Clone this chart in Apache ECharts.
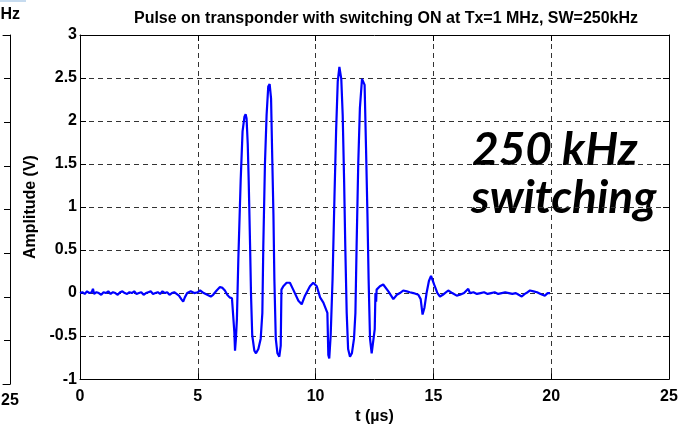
<!DOCTYPE html>
<html>
<head>
<meta charset="utf-8">
<script src="https://cdn.jsdelivr.net/npm/echarts@6/dist/echarts.min.js"></script>
<style>
html,body{margin:0;padding:0;background:#fff;}
#chart{width:688px;height:430px;}
</style>
</head>
<body>
<div id="chart"></div>
<script>
// ---- data ----
const titleText = 'Pulse on transponder with switching ON at Tx=1 MHz, SW=250kHz';
const xAxisName = 't (\u00b5s)';
const yAxisName = 'Amplitude (V)';
const annotationLines = ['250 kHz', 'switching'];
const leftPanelTitleTail = 'Hz';
const leftPanelLastTick = 25;

const xTicks = [0, 5, 10, 15, 20, 25];
const yTicks = [-1, -0.5, 0, 0.5, 1, 1.5, 2, 2.5, 3];

const timeUs = [
  0.00,0.10,0.20,0.30,0.40,0.50,0.55,0.60,0.70,0.80,0.90,1.00,1.10,1.20,1.30,1.40,1.50,1.60,1.70,1.80,1.90,
  2.00,2.10,2.20,2.30,2.40,2.50,2.60,2.70,2.80,2.90,3.00,3.10,3.20,3.30,3.40,3.50,3.60,3.70,3.80,3.90,
  4.00,4.10,4.20,4.30,4.38,4.45,4.55,4.70,4.85,5.00,5.10,5.25,5.40,5.55,5.65,5.80,5.94,6.05,6.15,6.25,6.35,6.45,6.51,
  6.55,6.58,6.62,6.66,6.72,6.82,6.90,6.98,7.03,7.07,7.12,7.16,7.22,7.26,7.31,7.40,7.47,7.57,7.67,7.74,7.78,
  7.85,7.92,7.99,8.05,8.11,8.16,8.21,8.25,8.31,8.38,8.46,8.52,8.55,8.63,8.77,8.91,9.05,9.27,9.41,9.55,9.76,
  9.90,10.05,10.19,10.33,10.41,10.50,10.54,10.58,10.64,10.72,10.80,10.87,10.94,11.01,11.05,11.09,11.15,11.21,
  11.26,11.32,11.38,11.46,11.54,11.63,11.69,11.74,11.81,11.88,11.97,12.03,12.08,12.14,12.20,12.25,12.31,12.38,
  12.45,12.51,12.54,12.57,12.59,12.73,12.87,13.09,13.30,13.45,13.58,13.72,13.87,14.00,14.15,14.36,14.46,14.54,
  14.62,14.71,14.81,14.90,15.03,15.17,15.28,15.40,15.49,15.63,15.80,15.99,16.13,16.30,16.48,16.55,16.70,16.85,
  17.00,17.15,17.30,17.45,17.60,17.75,17.90,18.05,18.20,18.35,18.50,18.62,18.75,18.88,19.00,19.10,19.25,19.40,
  19.55,19.73,19.85,19.95
];
const amplitudeV = [
  0.00,0.01,-0.01,0.02,0.00,0.01,0.05,-0.01,0.01,0.00,-0.02,0.01,0.00,0.02,-0.01,0.01,0.00,-0.02,0.01,0.02,0.00,
  -0.01,0.01,0.00,0.02,-0.01,0.00,0.01,-0.02,0.00,0.01,0.02,-0.01,0.00,0.01,-0.01,0.02,0.00,0.01,-0.02,0.00,
  0.01,-0.01,-0.03,-0.07,-0.10,-0.05,0.00,0.02,0.00,0.01,0.03,0.00,-0.02,-0.04,-0.02,0.03,0.07,0.06,0.03,-0.02,-0.05,-0.06,-0.08,
  -0.45,-0.67,-0.52,-0.30,0.39,1.31,1.88,2.05,2.08,2.03,1.73,1.31,0.54,-0.03,-0.49,-0.67,-0.70,-0.65,-0.53,-0.23,0.54,
  1.50,2.07,2.40,2.43,2.26,1.57,0.92,0.16,-0.53,-0.70,-0.74,-0.61,0.04,0.08,0.12,0.12,0.04,-0.09,-0.13,-0.03,0.08,
  0.12,0.08,-0.05,-0.11,-0.11,-0.23,-0.72,-0.76,-0.49,0.16,1.11,1.88,2.46,2.63,2.65,2.49,2.07,1.31,
  0.54,-0.23,-0.65,-0.74,-0.70,-0.53,-0.23,0.54,1.50,2.15,2.49,2.51,2.42,1.69,0.92,0.16,-0.53,-0.70,
  -0.70,-0.42,0.00,-0.10,0.04,0.08,0.10,0.02,-0.07,-0.02,0.00,0.03,0.02,0.01,0.00,-0.02,-0.07,-0.25,
  -0.17,0.00,0.14,0.20,0.10,0.00,-0.04,-0.02,0.00,0.03,0.00,-0.03,-0.02,0.00,0.05,0.00,0.01,-0.01,
  0.00,0.01,-0.01,0.00,0.01,-0.01,0.00,0.01,0.00,-0.01,0.00,-0.02,-0.04,-0.01,0.01,0.03,0.02,0.01,
  -0.01,-0.03,0.00,0.00
];

// ---- chart ----
const FONT = '"Liberation Sans", Arial, sans-serif';
const xMin = xTicks[0], xMax = xTicks[xTicks.length - 1], xStep = xTicks[1] - xTicks[0];
const yMin = yTicks[0], yMax = yTicks[yTicks.length - 1], yStep = yTicks[1] - yTicks[0];
const lbl = {color:'#000', fontFamily:FONT, fontWeight:'bold', fontSize:16};
const axLine = {show:true, onZero:false, lineStyle:{color:'#000', width:1}};
const noLine = {show:false, onZero:false};
const tickIn = {show:true, inside:true, length:6, lineStyle:{color:'#000', width:1}};
const dashGrid = {show:true, lineStyle:{color:'#333', width:1, type:[5,4]}};

const chart = echarts.init(document.getElementById('chart'), null, {renderer:'canvas'});
chart.setOption({
  animation:false,
  backgroundColor:'#fff',
  title:{
    text:titleText, left:381, top:6, textAlign:'center',
    textStyle:{color:'#000', fontFamily:FONT, fontWeight:'bold', fontSize:16}
  },
  grid:[
    {left:80, top:35, width:589, height:349},
    {left:0, top:35, width:10, height:349}
  ],
  xAxis:[
    {gridIndex:0, type:'value', min:xMin, max:xMax, interval:xStep, position:'bottom',
     axisLine:axLine, axisTick:tickIn, axisLabel:Object.assign({margin:9}, lbl), splitLine:dashGrid,
     name:xAxisName, nameLocation:'middle', nameGap:26, nameTextStyle:lbl},
    {gridIndex:0, type:'value', min:xMin, max:xMax, interval:xStep, position:'top',
     axisLine:axLine, axisTick:tickIn, axisLabel:{show:false}, splitLine:{show:false}},
    {gridIndex:1, type:'value', min:xMin, max:xMax, interval:xMax - xMin, position:'bottom',
     axisLine:axLine, axisTick:{show:false},
     axisLabel:Object.assign({margin:9, formatter:v => (v === leftPanelLastTick ? String(v) : '')}, lbl),
     splitLine:{show:false}},
    {gridIndex:1, type:'value', min:xMin, max:xMax, interval:xMax - xMin, position:'top',
     axisLine:axLine, axisTick:{show:false}, axisLabel:{show:false}, splitLine:{show:false}}
  ],
  yAxis:[
    {gridIndex:0, type:'value', min:yMin, max:yMax, interval:yStep, position:'left',
     axisLine:axLine, axisTick:tickIn, axisLabel:Object.assign({margin:3}, lbl), splitLine:dashGrid,
     name:yAxisName, nameLocation:'middle', nameGap:25, nameRotate:90, nameTextStyle:lbl},
    {gridIndex:0, type:'value', min:yMin, max:yMax, interval:yStep, position:'right',
     axisLine:axLine, axisTick:tickIn, axisLabel:{show:false}, splitLine:{show:false}},
    {gridIndex:1, type:'value', min:yMin, max:yMax, interval:yStep, position:'left',
     axisLine:noLine, axisTick:{show:false}, axisLabel:{show:false}, splitLine:{show:false}},
    {gridIndex:1, type:'value', min:yMin, max:yMax, interval:yStep, position:'right',
     axisLine:axLine, axisTick:tickIn, axisLabel:{show:false}, splitLine:{show:false}}
  ],
  series:[{
    type:'line', xAxisIndex:0, yAxisIndex:0,
    data: timeUs.map((t, i) => [t, amplitudeV[i]]),
    showSymbol:false, symbol:'none',
    lineStyle:{color:'#0000ff', width:2.2},
    itemStyle:{color:'#0000ff'}
  }],
  graphic:[
    {type:'rect', shape:{x:0, y:0, width:26, height:2}, style:{fill:'#c6dbef'}},
    {type:'text', x:20, y:15, style:{text:leftPanelTitleTail, align:'right', verticalAlign:'middle',
      fill:'#000', font:'bold 16px ' + FONT}},
    {type:'text', x:472, y:150, style:{text:annotationLines[0], align:'left', verticalAlign:'middle',
      fill:'#000', font:'italic bold 46px Lato, "Liberation Sans", sans-serif'}},
    {type:'text', x:471, y:198, style:{text:annotationLines[1], align:'left', verticalAlign:'middle',
      fill:'#000', font:'italic bold 46px Lato, "Liberation Sans", sans-serif'}}
  ]
});
</script>
</body>
</html>
